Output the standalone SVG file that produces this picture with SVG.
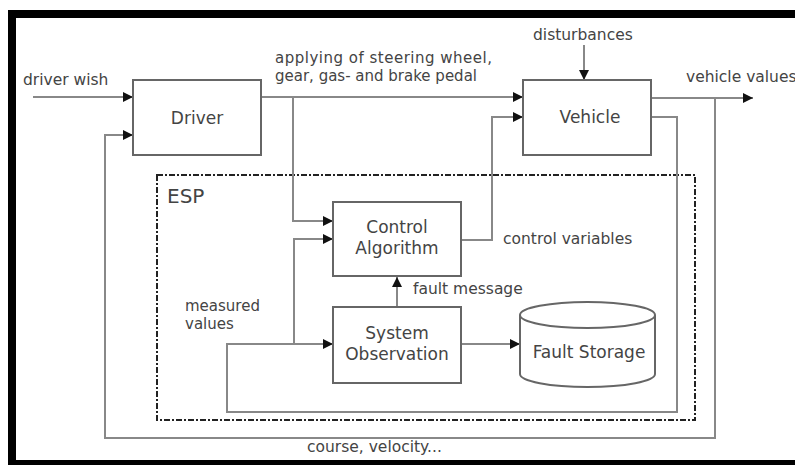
<svg xmlns="http://www.w3.org/2000/svg" width="795" height="465" viewBox="0 0 795 465">
<style>
.lbl{font-family:"DejaVu Sans",sans-serif;font-size:15.5px;fill:#444}
.lbl2{font-family:"DejaVu Sans",sans-serif;font-size:15px;fill:#444}
.box{font-family:"DejaVu Sans",sans-serif;font-size:17px;fill:#444;text-anchor:middle}
.node{fill:#fff;stroke:#666;stroke-width:2}
.wire{fill:none;stroke:#888;stroke-width:2}
.arr{marker-end:url(#ah)}
</style>
<defs>
<marker id="ah" viewBox="0 0 10 10" refX="10" refY="5" markerWidth="12" markerHeight="10" markerUnits="userSpaceOnUse" orient="auto">
<path d="M0,0 L10,5 L0,10 Z" fill="#111"/>
</marker>
</defs>
<rect width="795" height="465" fill="#fff"/>
<g id="frame">
<path d="M8,10 H795 V18 H16 V460 H795 V465 H8 Z" fill="#000"/>
</g>
<g id="esp">
<rect x="157" y="175" width="538" height="245" fill="none" stroke="#222" stroke-width="2" stroke-dasharray="6,2,2,2"/>
<text x="167" y="203" font-family="DejaVu Sans, sans-serif" font-size="20" fill="#444">ESP</text>
</g>
<g id="connectors">
<path class="wire arr" d="M33,97 H133"/>
<path class="wire arr" d="M715,98 V438 H105 V135 H133"/>
<path class="wire arr" d="M261,97 H523"/>
<path class="wire arr" d="M293,97 V221 H333"/>
<path class="wire arr" d="M584,45 V80"/>
<path class="wire arr" d="M651,98 H753"/>
<path class="wire arr" d="M461,240 H492 V117 H523"/>
<path class="wire arr" d="M651,117 H677 V412 H227 V344 H333"/>
<path class="wire arr" d="M294,344 V239 H333"/>
<path class="wire arr" d="M397,307 V277"/>
<path class="wire arr" d="M461,344 H520"/>
</g>
<g id="driver">
<rect class="node" x="133" y="80" width="128" height="75"/>
<text class="box" x="197" y="124">Driver</text>
</g>
<g id="vehicle">
<rect class="node" x="523" y="80" width="128" height="75"/>
<text class="box" x="590" y="123">Vehicle</text>
</g>
<g id="control">
<rect class="node" x="333" y="202" width="128" height="74"/>
<text class="box" x="397" y="233">Control</text>
<text class="box" x="397" y="254">Algorithm</text>
</g>
<g id="observation">
<rect class="node" x="333" y="307" width="128" height="76"/>
<text class="box" x="397" y="339">System</text>
<text class="box" x="397" y="360">Observation</text>
</g>
<g id="storage">
<path class="node" d="M520,315 V374 A67.5,13 0 0 0 655,374 V315"/>
<ellipse class="node" cx="587.5" cy="315" rx="67.5" ry="13"/>
<text class="box" x="589" y="358">Fault Storage</text>
</g>
<g id="labels">
<text class="lbl" x="23" y="85">driver wish</text>
<text class="lbl2" x="275" y="63" textLength="217">applying of steering wheel,</text>
<text class="lbl2" x="275" y="81">gear, gas- and brake pedal</text>
<text class="lbl" x="533" y="40">disturbances</text>
<text class="lbl" x="686" y="82">vehicle values</text>
<text class="lbl" x="503" y="244">control variables</text>
<text class="lbl" x="413" y="294">fault message</text>
<text class="lbl2" x="185" y="311">measured</text>
<text class="lbl2" x="185" y="329">values</text>
<text class="lbl" x="307" y="452">course, velocity...</text>
</g>
</svg>
